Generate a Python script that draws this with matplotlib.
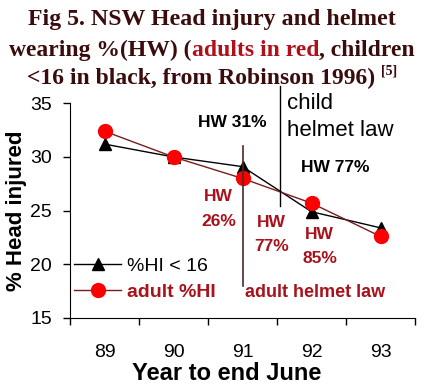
import matplotlib
matplotlib.use("Agg")
import matplotlib.pyplot as plt
import numpy as np

plt.rcParams['font.family'] = ['Liberation Sans', 'DejaVu Sans']

years = ['89', '90', '91', '92', '93']
child_hi = [31.2, 30.0, 29.1, 24.9, 23.4]
adult_hi = [32.4, 30.0, 28.0, 25.7, 22.6]

dark = '#3a0c0c'
red_txt = '#a8121c'
red_line = '#7a1c1c'

fig = plt.figure(figsize=(4.38, 3.92), dpi=100)
ax = fig.add_axes([70/438, 1-318/392, 345/438, (318-103.3)/392])

x = np.arange(len(years))
ax.plot(x, child_hi, '-^', color='black', lw=1, ms=8, label='%HI < 16')
ax.plot(x, adult_hi, '-o', color=red_line, lw=1, ms=10, mfc='#ff0000', mec='#ff0000',
        label='adult %HI')

ax.set_xlim(-0.5, 4.5)
ax.set_ylim(15, 35)
ax.set_yticks([15, 20, 25, 30, 35])
ax.set_xticks(np.arange(-0.5, 5, 1))
ax.set_xticklabels([])
ax.set_xticks(x, minor=True)
ax.set_xticklabels(years, minor=True)
ax.tick_params(axis='x', which='major', length=5, width=1)
ax.tick_params(axis='x', which='minor', length=0, pad=19, labelsize=14)
ax.tick_params(axis='y', length=5, width=1, pad=8, labelsize=14)
for s in ['top', 'right']:
    ax.spines[s].set_visible(False)

ax.set_ylabel('% Head injured', fontsize=16, fontweight='bold')
ax.yaxis.set_label_coords(-0.125, 0.5)
ax.set_xlabel('Year to end June', fontsize=17, fontweight='bold')
ax.xaxis.set_label_coords((227 - 70) / 345, -0.205)

# helmet law markers
ax.plot([2.55, 2.55], [25.4, 36.6], color='black', lw=1, clip_on=False)
ax.plot([2.0, 2.0], [18.0, 31.0], color='#4a2a2a', lw=1.2, clip_on=False)

ax.text(1.855, 33.2, 'HW 31%', ha='center', va='center', fontsize=12.5,
        fontweight='bold', color='black')
ax.text(2.65, 35.0, 'child', ha='left', va='center', fontsize=16, color='black')
ax.text(2.65, 32.5, 'helmet law', ha='left', va='center', fontsize=16, color='black')
ax.text(3.35, 29.0, 'HW 77%', ha='center', va='center', fontsize=12.5,
        fontweight='bold', color='black')

for xx, y1, y2, lab in [(1.65, 26.3, 24.0, '26%'), (2.42, 23.9, 21.7, '77%'),
                        (3.12, 22.8, 20.5, '85%')]:
    ax.text(xx, y1, 'HW', ha='center', va='center', fontsize=12.5,
            fontweight='bold', color=red_txt)
    ax.text(xx, y2, lab, ha='center', va='center', fontsize=12.5,
            fontweight='bold', color=red_txt)
ax.text(2.04, 17.4, 'adult helmet law', ha='left', va='center', fontsize=13,
        fontweight='bold', color=red_txt)

leg = ax.legend(loc='upper left', bbox_to_anchor=(-0.01, 0.32), frameon=False,
                fontsize=14, handlelength=2.4, handletextpad=0.3, labelspacing=0.45,
                borderaxespad=0)
texts = leg.get_texts()
texts[1].set_color(red_txt)
texts[1].set_fontweight('bold')

# title with coloured segments
title_lines = [
    [('Fig 5. NSW Head injury and helmet', dark, 17.2)],
    [('wearing %(HW) (', dark, 17), ('adults in red', '#b0101a', 17), (', children', dark, 17)],
    [('<16 in black, from Robinson 1996) ', dark, 17), ('[5]', dark, 10)],
]
title_y = [20, 50, 78]
fig.canvas.draw()
r = fig.canvas.get_renderer()
for segs, py in zip(title_lines, title_y):
    objs = []
    for s, c, fs in segs:
        t = fig.text(0, 0, s, color=c, fontsize=fs, fontweight='bold',
                     family='Liberation Serif', va='center', ha='left')
        objs.append(t)
    widths = [t.get_window_extent(r).width for t in objs]
    total = sum(widths)
    xpos = 212 - total / 2
    for t, w, (s, c, fs) in zip(objs, widths, segs):
        yy = py if fs > 12 else py - 7
        t.set_position((xpos / 438, 1 - yy / 392))
        xpos += w

fig.savefig('out.png', dpi=100)
